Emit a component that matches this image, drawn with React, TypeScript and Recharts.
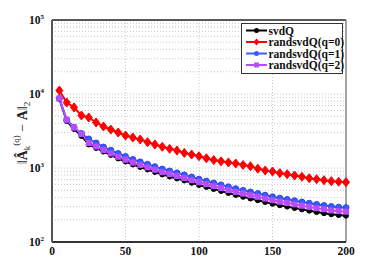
import React from "react";
import {
  LineChart,
  Line,
  XAxis,
  YAxis,
  CartesianGrid,
  ReferenceLine,
} from "recharts";

const kValues = [
  5, 10, 15, 20, 25, 30, 35, 40, 45, 50, 55, 60, 65, 70, 75, 80, 85, 90, 95, 100,
  105, 110, 115, 120, 125, 130, 135, 140, 145, 150, 155, 160, 165, 170, 175, 180,
  185, 190, 195, 200,
];

const svdQ = [
  8560, 4320, 3370, 2710, 2080, 1865, 1670, 1500, 1345, 1225, 1115, 1030, 955, 883,
  817, 768, 721, 678, 631, 589, 554, 520, 489, 459, 432, 408, 387, 367, 347, 329,
  314, 301, 288, 276, 265, 254, 245, 237, 231, 227,
];

const randQ0 = [
  11150, 7680, 6580, 5120, 4810, 4120, 3640, 3310, 3020, 2750, 2580, 2430, 2235,
  2080, 1935, 1815, 1720, 1600, 1520, 1443, 1355, 1280, 1230, 1190, 1150, 1100,
  1057, 980, 925, 897, 851, 825, 792, 760, 728, 706, 684, 664, 652, 643,
];

const randQ1 = [
  8700, 4450, 3530, 2930, 2470, 2180, 1920, 1735, 1570, 1430, 1303, 1209, 1122,
  1041, 967, 911, 859, 807, 754, 706, 665, 627, 591, 557, 525, 498, 474, 451, 429,
  408, 391, 375, 361, 347, 334, 322, 311, 302, 295, 291,
];

const randQ2 = [
  8700, 4500, 3530, 2880, 2180, 1950, 1750, 1570, 1417, 1291, 1183, 1098, 1019,
  946, 877, 827, 777, 733, 684, 641, 604, 569, 535, 504, 475, 451, 428, 407, 386,
  367, 350, 337, 323, 309, 298, 286, 277, 267, 262, 257,
];

const xTicks = [0, 50, 100, 150, 200];
const yTicks = [100, 1000, 10000, 100000];
const minorY = [
  200, 300, 400, 500, 600, 700, 800, 900, 2000, 3000, 4000, 5000, 6000, 7000, 8000,
  9000, 20000, 30000, 40000, 50000, 60000, 70000, 80000, 90000,
];

const seriesNames = ["svdQ", "randsvdQ(q=0)", "randsvdQ(q=1)", "randsvdQ(q=2)"];

const data = kValues.map((k, i) => ({
  k,
  svdQ: svdQ[i],
  q0: randQ0[i],
  q1: randQ1[i],
  q2: randQ2[i],
}));

const FONT = "'Liberation Serif', 'Times New Roman', serif";
const BLACK = "#000000";
const RED = "#ff0000";
const BLUE = "#3a5cff";
const PURPLE = "#b94cff";

const CircleDot = (color: string, r: number, edge?: string) => (props: any) => {
  const { cx, cy, index } = props;
  if (cx == null || cy == null) return <g key={index} />;
  return <circle key={index} cx={cx} cy={cy} r={r} fill={color} stroke={edge || color} strokeWidth={1} />;
};

const DiamondDot = (props: any) => {
  const { cx, cy, index } = props;
  if (cx == null || cy == null) return <g key={index} />;
  const w = 3.5;
  const h = 4.5;
  return (
    <polygon
      key={index}
      points={`${cx},${cy - h} ${cx + w},${cy} ${cx},${cy + h} ${cx - w},${cy}`}
      fill={RED}
      stroke={RED}
    />
  );
};

const SquareDot = (props: any) => {
  const { cx, cy, index } = props;
  if (cx == null || cy == null) return <g key={index} />;
  return <rect key={index} x={cx - 3} y={cy - 3} width={6} height={6} fill={PURPLE} />;
};

const XTick = (props: any) => {
  const { x, payload } = props;
  return (
    <text x={x} y={255} textAnchor="middle" fontFamily={FONT} fontWeight="bold" fontSize={11.5} fill="#111">
      {payload.value}
    </text>
  );
};

const YTick = (props: any) => {
  const { y, payload } = props;
  const exp = Math.round(Math.log10(payload.value));
  return (
    <text x={44} y={y + 4} textAnchor="end" fontFamily={FONT} fontWeight="bold" fontSize={11.5} fill="#111">
      10
      <tspan fontSize={7} dy={-5}>
        {exp}
      </tspan>
    </text>
  );
};

const YLabel = () => (
  <text
    transform="translate(27,133) rotate(-90)"
    textAnchor="middle"
    fontFamily={FONT}
    fontSize={14}
    fill="#222"
  >
    ‖
    <tspan fontWeight="bold">Â</tspan>
    <tspan fontSize={9} dy={3}>k</tspan>
    <tspan fontSize={9} dy={-11}>(q)</tspan>
    <tspan dy={8}> − </tspan>
    <tspan fontWeight="bold">A</tspan>
    ‖
    <tspan fontSize={9} dy={3}>2</tspan>
  </text>
);

const legendItems = [
  { name: seriesNames[0], color: BLACK, kind: "circle" },
  { name: seriesNames[1], color: RED, kind: "diamond" },
  { name: seriesNames[2], color: BLUE, kind: "circle" },
  { name: seriesNames[3], color: PURPLE, kind: "square" },
];

const LegendBox = () => (
  <svg width={103} height={52} style={{ display: "block" }}>
    <rect x={0.5} y={0.5} width={101} height={50} fill="#fff" stroke="#333" strokeWidth={1} />
    {legendItems.map((it, i) => {
      const cy = 7.5 + i * 11.5;
      return (
        <g key={it.name}>
          <line x1={5} x2={26} y1={cy} y2={cy} stroke={it.color} strokeWidth={2} />
          {it.kind === "circle" && <circle cx={15.5} cy={cy} r={2.5} fill={it.color} />}
          {it.kind === "diamond" && (
            <polygon
              points={`15.5,${cy - 3.5} 18.5,${cy} 15.5,${cy + 3.5} 12.5,${cy}`}
              fill={it.color}
            />
          )}
          {it.kind === "square" && <rect x={13} y={cy - 2.5} width={5} height={5} fill={it.color} />}
          <text x={27.5} y={cy + 4} fontFamily={FONT} fontWeight="bold" fontSize={11.5} fill="#111">
            {it.name}
          </text>
        </g>
      );
    })}
  </svg>
);

export default function App() {
  return (
    <div style={{ position: "absolute", left: 0, top: 0, width: 382, height: 273, background: "#fff" }}>
      <LineChart width={382} height={273} data={data} margin={{ top: 20, right: 36, left: 0, bottom: 0 }}>
        <CartesianGrid horizontal={false} stroke="#c8c8c8" strokeDasharray="1 2" />
        {minorY.concat(yTicks).map((v) => (
          <ReferenceLine key={v} y={v} stroke="#c8c8c8" strokeDasharray="1 2" ifOverflow="hidden" />
        ))}
        <ReferenceLine y={100000} stroke="#222" strokeWidth={1.5} />
        <ReferenceLine x={200} stroke="#888" strokeWidth={1.5} />
        <XAxis
          dataKey="k"
          type="number"
          domain={[0, 200]}
          ticks={xTicks}
          height={31}
          tickLine={false}
          axisLine={{ stroke: "#333", strokeWidth: 2 }}
          tick={<XTick />}
          interval={0}
        />
        <YAxis
          scale="log"
          domain={[100, 100000]}
          ticks={yTicks}
          width={52}
          tickLine={false}
          axisLine={{ stroke: "#555", strokeWidth: 2 }}
          tick={<YTick />}
          interval={0}
          allowDataOverflow
          label={<YLabel />}
        />
        <Line
          dataKey="svdQ"
          name={seriesNames[0]}
          stroke={BLACK}
          strokeWidth={2}
          dot={CircleDot(BLACK, 2.5)}
          isAnimationActive={false}
        />
        <Line
          dataKey="q0"
          name={seriesNames[1]}
          stroke={RED}
          strokeWidth={2}
          dot={DiamondDot}
          isAnimationActive={false}
        />
        <Line
          dataKey="q1"
          name={seriesNames[2]}
          stroke={BLUE}
          strokeWidth={2}
          dot={CircleDot(BLUE, 3, "#2a48e0")}
          isAnimationActive={false}
        />
        <Line
          dataKey="q2"
          name={seriesNames[3]}
          stroke={PURPLE}
          strokeWidth={2}
          dot={SquareDot}
          isAnimationActive={false}
        />
      </LineChart>
      <div style={{ position: "absolute", left: 241, top: 23 }}>
        <LegendBox />
      </div>
    </div>
  );
}
